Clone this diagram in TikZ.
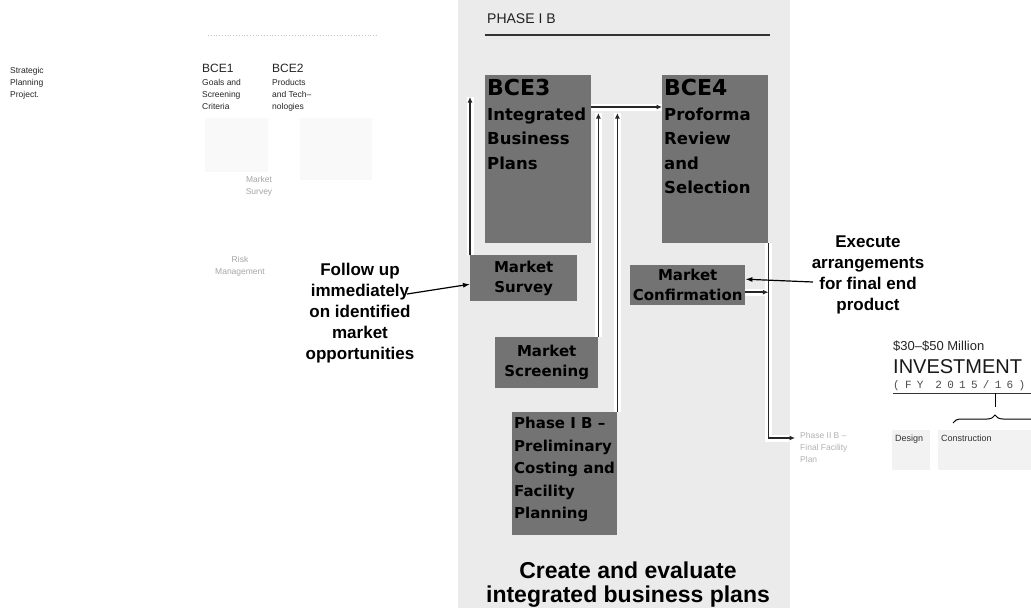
\documentclass[tikz,border=0pt]{standalone}
\usepackage{fontspec}
\setmainfont{Liberation Sans}
\newfontfamily\boxfont{DejaVu Sans}
\newfontfamily\monofont{Liberation Mono}
\usetikzlibrary{arrows.meta,decorations.pathreplacing}
\pgfdeclarelayer{bg}
\pgfdeclarelayer{mid}
\pgfsetlayers{bg,mid,main}
\begin{document}
\begin{tikzpicture}[x=1pt,y=-1pt,
  dbox/.style={draw=none, fill=black!55, inner sep=0pt, anchor=north west},
  btxt/.style={font=\boxfont\bfseries\fontsize{15}{20}\selectfont, align=center, text=black, inner sep=0pt},
  bigtxt/.style={font=\boxfont\bfseries\fontsize{16.5}{24.5}\selectfont, align=left, text=black, inner sep=0pt, anchor=north west},
  conn/.style={draw=black!85, line width=1.6pt, -{Latex[length=5.5pt,width=5pt]}, preaction={draw=white, line width=7pt, -}},
  annot/.style={draw=black, line width=1.2pt, -{Latex[length=7pt,width=5pt]}},
  note/.style={font=\bfseries\fontsize{17}{21}\selectfont, align=center, inner sep=0pt},
  small/.style={font=\fontsize{8.5}{12}\selectfont, text=gray!30!black, align=left, inner sep=0pt, anchor=north west},
  faint/.style={font=\fontsize{8.5}{12}\selectfont, text=gray!70, align=left, inner sep=0pt},
  bracestyle/.style={decorate, decoration={brace, amplitude=8pt}, line width=1pt},
]
\useasboundingbox (0,0) rectangle (1031,611);

% background panel
\begin{pgfonlayer}{bg}
\fill[white] (0,0) rectangle (1031,611);
\fill[gray!16] (458,0) rectangle (790,608);
\fill[gray!5] (205,118) rectangle (268,172);
\fill[gray!5] (300,118) rectangle (372,180);
\fill[gray!10] (892,430) rectangle (930,470);
\fill[gray!10] (938,430) rectangle (1031,470);
\end{pgfonlayer}

% faded header of the previous phase
\draw[gray!45, dotted, line width=0.8pt] (208,35) -- (378,35);

% left column (faded earlier phase)
\node[small] (spp) at (10,67) {Strategic\\Planning\\Project.};
\node[small, font=\fontsize{12}{12}\selectfont] (bce1h) at (202,64) {BCE1};
\node[small] (bce1) at (202,79) {Goals and\\Screening\\Criteria};
\node[small, font=\fontsize{12}{12}\selectfont] (bce2h) at (272,64) {BCE2};
\node[small] (bce2) at (272,79) {Products\\and Tech–\\nologies};
\node[faint, align=center] (lms) at (259,186) {Market\\Survey};
\node[faint, align=center] (lrm) at (240,266) {Risk\\Management};

% phase I B header
\node[anchor=west, inner sep=0pt, font=\fontsize{14}{14}\selectfont, text=gray!25!black] (ph) at (487,19) {PHASE I B};
\draw[line width=1.3pt, black!80] (485,35) -- (770,35);

% boxes
\node[dbox, minimum width=106pt, minimum height=168pt] (bce3) at (485,75) {};
\node[dbox, minimum width=106pt, minimum height=168pt] (bce4) at (662,75) {};
\node[dbox, minimum width=107pt, minimum height=46pt] (ms) at (470,255) {};
\node[dbox, minimum width=103pt, minimum height=51pt] (mscr) at (495,337) {};
\node[dbox, minimum width=105pt, minimum height=123pt] (pib) at (512,412) {};
\node[dbox, minimum width=115pt, minimum height=40pt] (mc) at (630,265) {};

\node[bigtxt] (bce3t) at ([xshift=2pt,yshift=-4pt]bce3.north west) {{\fontsize{22}{26}\selectfont BCE3}\\Integrated\\Business\\Plans};
\node[bigtxt] (bce4t) at ([xshift=2pt,yshift=-4pt]bce4.north west) {{\fontsize{22}{26}\selectfont BCE4}\\Proforma\\Review\\and\\Selection};
\node[btxt] (mst) at (ms.center) {Market\\Survey};
\node[btxt] (mscrt) at (mscr.center) {Market\\Screening};
\node[btxt] (mct) at (mc.center) {Market\\Confirmation};
\node[bigtxt, font=\boxfont\bfseries\fontsize{15}{22.5}\selectfont] (pibt) at ([xshift=2pt,yshift=-5pt]pib.north west) {Phase I B –\\Preliminary\\Costing and\\Facility\\Planning};

% connectors
\coordinate (up) at (0,97);
\coordinate (up2) at (0,113);
\coordinate (p2end) at (795,438);
\coordinate (mco) at ([yshift=-7pt]mc.east);
\begin{pgfonlayer}{mid}
\draw[conn] (ms.north west) -- (ms.north west |- up);
\draw[conn] ([yshift=-32pt]bce3.north east) -- ([yshift=-32pt]bce4.north west);
\draw[conn] (mscr.north east) -- (mscr.north east |- up2);
\draw[conn] (pib.north east) -- (pib.north east |- up2);
\draw[conn] (bce4.south east) |- (p2end);
\draw[conn] (mco) -- (mco -| bce4.east);
\end{pgfonlayer}

% annotations
\node[note] (fu) at (360,313) {Follow up\\immediately\\on identified\\market\\opportunities};
\coordinate (fuarr) at (407,294);
\draw[annot] (fuarr) -- ([yshift=-6pt]ms.west);
\node[note] (ex) at (868,275) {Execute\\arrangements\\for final end\\product};
\coordinate (exarr) at (813,282);
\draw[annot] (exarr) -- ([yshift=6pt]mc.east);
\node[note, font=\bfseries\fontsize{23}{24}\selectfont] (cr) at (628,585) {Create and evaluate\\integrated business plans};

% phase II B
\node[small, text=gray!60] (p2) at (800,432) {Phase II B –\\Final Facility\\Plan};

% investment
\node[anchor=base west, inner sep=0pt, font=\fontsize{13}{13}\selectfont, text=black!85] (inv1) at (893,350) {\$30–\$50 Million};
\node[anchor=base west, inner sep=0pt, font=\fontsize{20}{20}\selectfont, text=black!90] (inv2) at (893,373) {INVESTMENT};
\node[anchor=base west, inner sep=0pt, font=\monofont\addfontfeatures{LetterSpace=48}\fontsize{11}{11}\selectfont, text=black!70] (inv3) at (893,388) {(FY 2015/16)};
\draw[line width=1pt, black!80] (893,393) -- (1031,393);
\coordinate (brtop) at (995,393);
\coordinate (brl) at (953,423);
\coordinate (brr) at (1037,423);
\draw[line width=1pt] (brtop) -- (995,407);
\draw[bracestyle] (brl) -- (brr);
\node[anchor=base west, inner sep=0pt, font=\fontsize{9}{9}\selectfont, text=gray!40!black] (des) at (895,441) {Design};
\node[anchor=base west, inner sep=0pt, font=\fontsize{9}{9}\selectfont, text=gray!40!black] (con) at (941,441) {Construction};
\end{tikzpicture}
\end{document}
